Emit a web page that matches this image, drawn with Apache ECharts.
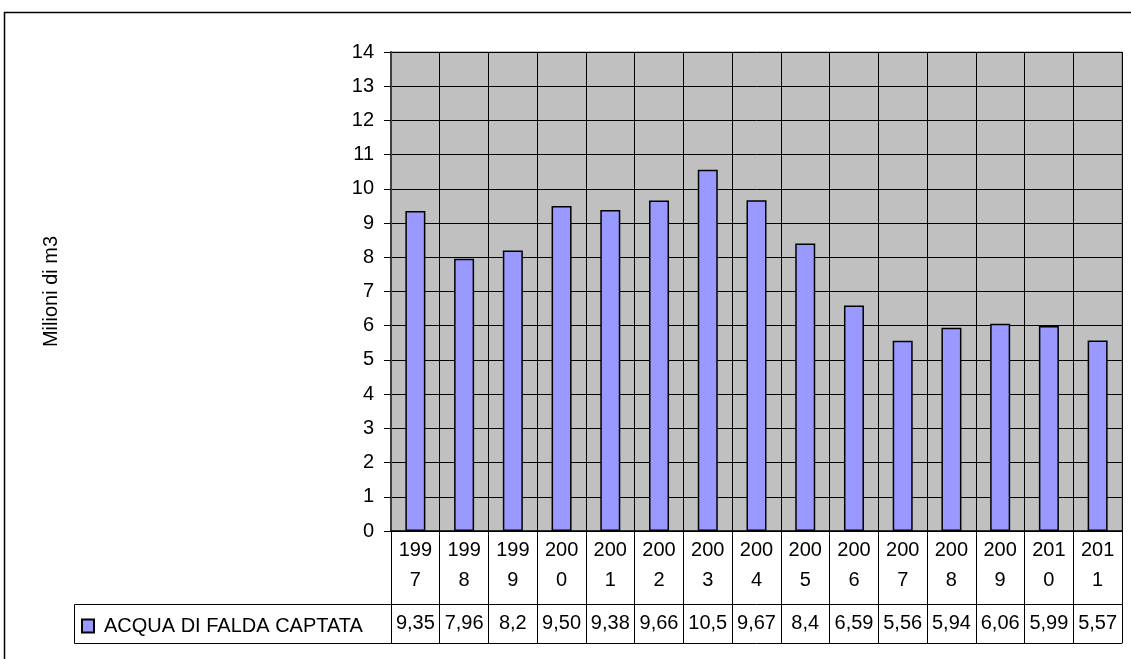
<!DOCTYPE html>
<html>
<head>
<meta charset="utf-8">
<script src="https://cdn.jsdelivr.net/npm/echarts@6/dist/echarts.min.js"></script>
<style>
html,body{margin:0;padding:0;background:#fff;}
#chart{width:1131px;height:659px;}
</style>
</head>
<body>
<div id="chart"></div>
<script>
const years = ['1997','1998','1999','2000','2001','2002','2003','2004','2005','2006','2007','2008','2009','2010','2011'];
const values = [9.35, 7.96, 8.2, 9.50, 9.38, 9.66, 10.56, 9.67, 8.4, 6.59, 5.56, 5.94, 6.06, 5.99, 5.57];
const tableLabels = ['9,35','7,96','8,2','9,50','9,38','9,66','10,5','9,67','8,4','6,59','5,56','5,94','6,06','5,99','5,57'];
const seriesName = 'ACQUA DI FALDA CAPTATA';
const yTitle = 'Milioni di m3';

const font = 'Liberation Sans, Arial, sans-serif';
const fs = 20;
const chart = echarts.init(document.getElementById('chart'));
chart.setOption({
  animation: false,
  textStyle: { fontFamily: font },
  graphic: [
    { type: 'rect', shape: { x: 4.5, y: 12.5, width: 1140, height: 700 }, style: { fill: 'none', stroke: '#000', lineWidth: 1.5 }, silent: true },
    { type: 'rect', shape: { x: 74.5, y: 604.5, width: 317, height: 39 }, style: { fill: 'none', stroke: '#000', lineWidth: 1 }, silent: true }
  ],
  legend: {
    left: 81, top: 616, padding: 0,
    icon: 'rect', itemWidth: 12, itemHeight: 13, itemGap: 6,
    textStyle: { fontSize: fs, color: '#000', fontFamily: font, padding: [0, 0, 0, 5] },
    data: [seriesName]
  },
  grid: {
    left: 391, right: 9, top: 52, bottom: 128,
    show: true, backgroundColor: '#C0C0C0', borderColor: '#808080', borderWidth: 1
  },
  xAxis: [
    {
      type: 'category', data: years.map(y => y.slice(0,3) + '\n' + y.slice(3)),
      position: 'bottom',
      axisLine: { lineStyle: { color: '#000', width: 1.5 } },
      axisTick: { show: true, interval: 0, length: 73, lineStyle: { color: '#000' } },
      axisLabel: { interval: 0, fontSize: fs, lineHeight: 30, margin: 4, color: '#000' },
      splitLine: { show: true, interval: 0, lineStyle: { color: '#000', width: 1 } }
    },
    {
      type: 'category', data: tableLabels,
      position: 'bottom', offset: 73,
      axisLine: { lineStyle: { color: '#000', width: 1 } },
      axisTick: { show: true, interval: 0, length: 39, lineStyle: { color: '#000' } },
      axisLabel: { interval: 0, fontSize: fs, lineHeight: 24, margin: 7, color: '#000' },
      splitLine: { show: false }
    },
    {
      type: 'category', data: years,
      position: 'bottom', offset: 112,
      axisLine: { lineStyle: { color: '#000', width: 1 } },
      axisTick: { show: false },
      axisLabel: { show: false },
      splitLine: { show: false }
    }
  ],
  yAxis: {
    type: 'value', min: 0, max: 14, interval: 1,
    name: yTitle, nameLocation: 'middle', nameGap: 330, nameRotate: 90,
    nameTextStyle: { fontSize: fs, color: '#000', fontFamily: font },
    axisLine: { show: true, lineStyle: { color: '#404040', width: 2 } },
    axisTick: { show: true, length: 7, lineStyle: { color: '#000' } },
    axisLabel: { fontSize: fs, color: '#000', margin: 17 },
    splitLine: { show: true, lineStyle: { color: '#000', width: 1 } }
  },
  series: [{
    name: seriesName, type: 'bar', data: values, xAxisIndex: 0,
    barWidth: 20,
    itemStyle: { color: '#9999FF', borderColor: '#000', borderWidth: 1.5 }
  }]
});
</script>
</body>
</html>
